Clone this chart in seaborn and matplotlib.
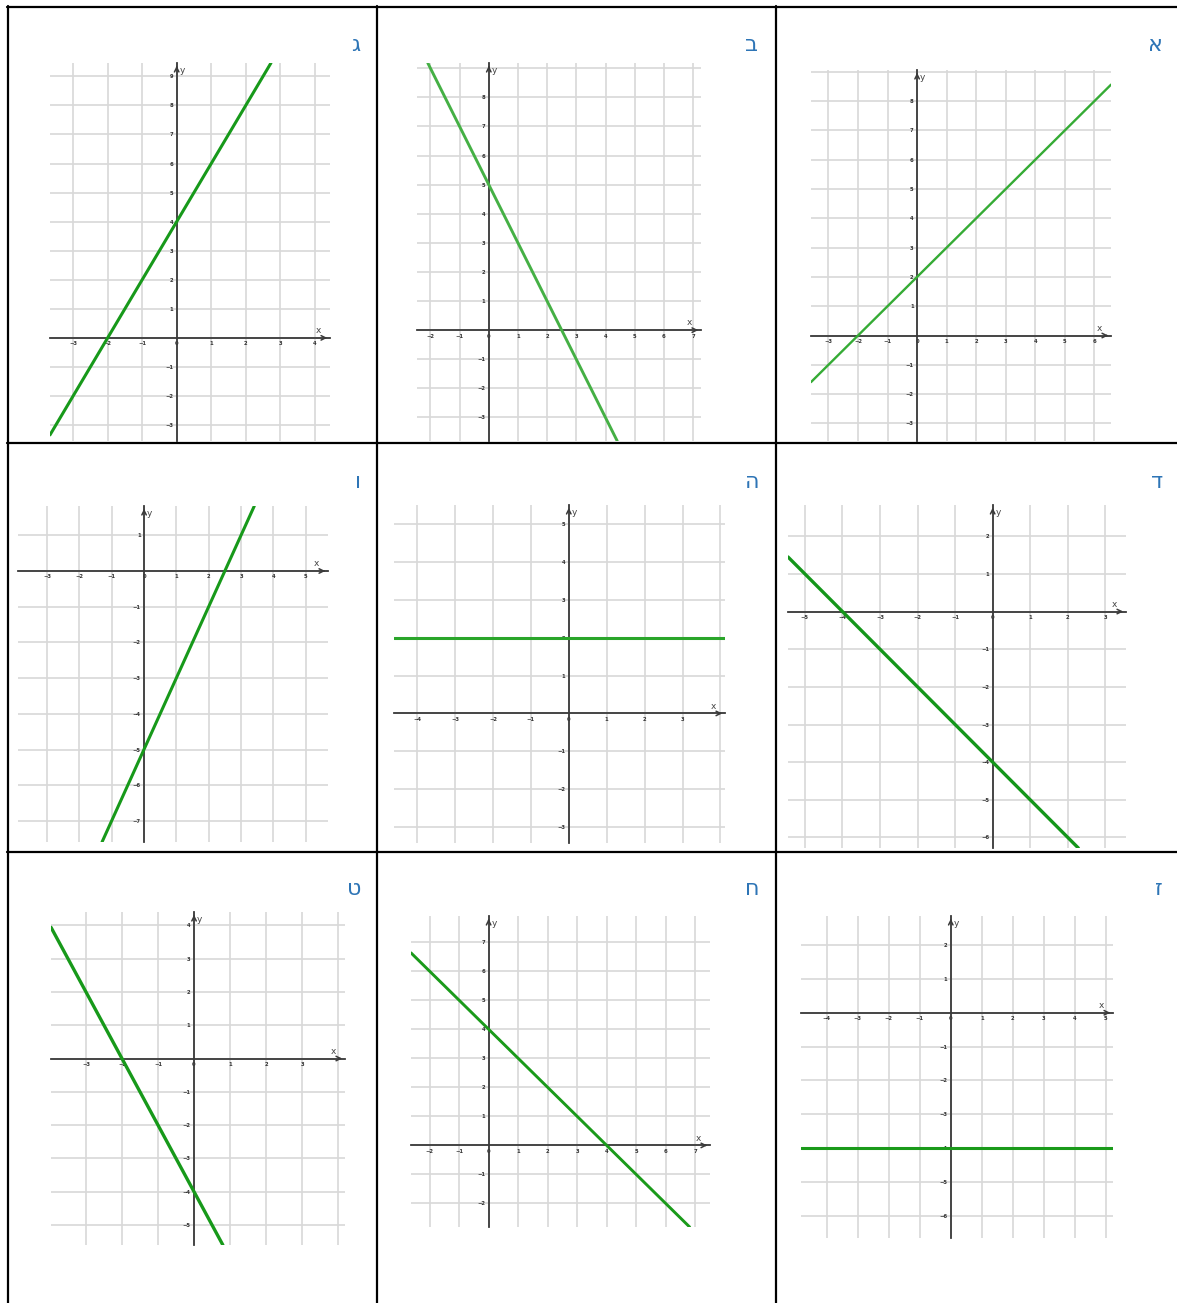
import matplotlib
matplotlib.use("Agg")
import matplotlib.pyplot as plt
from matplotlib.lines import Line2D
import numpy as np
import pandas as pd
import seaborn as sns

sns.set_theme(style="white")
plt.rcParams['font.family'] = ['DejaVu Sans']

# ---------------- data ----------------
panel_names = ["א", "ב", "ג", "ד", "ה", "ו", "ז", "ח", "ט"]

# line endpoints
line_x_a = [-3.59, 6.56];  line_y_a = [-1.59, 8.56]
line_x_b = [-2.09, 4.40];  line_y_b = [9.18, -3.81]
line_x_c = [-3.67, 2.73];  line_y_c = [-3.34, 9.46]
line_x_d = [-5.45, 2.28];  line_y_d = [1.45, -6.28]
line_x_e = [-4.61, 4.12];  line_y_e = [2.0, 2.0]
line_x_f = [-1.30, 3.41];  line_y_f = [-7.59, 1.82]
line_x_g = [-4.83, 5.23];  line_y_g = [-4.0, -4.0]
line_x_h = [-2.63, 6.81];  line_y_h = [6.63, -2.81]
line_x_i = [-3.97, 0.80];  line_y_i = [3.94, -5.60]

# axis tick labels shown on each grid
xlab_a = [-3, -2, -1, 0, 1, 2, 3, 4, 5, 6];     ylab_a = [-3, -2, -1, 1, 2, 3, 4, 5, 6, 7, 8]
xlab_b = [-2, -1, 0, 1, 2, 3, 4, 5, 6, 7];      ylab_b = [-3, -2, -1, 1, 2, 3, 4, 5, 6, 7, 8]
xlab_c = [-3, -2, -1, 0, 1, 2, 3, 4];           ylab_c = [-3, -2, -1, 1, 2, 3, 4, 5, 6, 7, 8, 9]
xlab_d = [-5, -4, -3, -2, -1, 0, 1, 2, 3];      ylab_d = [-6, -5, -4, -3, -2, -1, 1, 2]
xlab_e = [-4, -3, -2, -1, 0, 1, 2, 3];          ylab_e = [-3, -2, -1, 1, 2, 3, 4, 5]
xlab_f = [-3, -2, -1, 0, 1, 2, 3, 4, 5];        ylab_f = [-7, -6, -5, -4, -3, -2, -1, 1]
xlab_g = [-4, -3, -2, -1, 0, 1, 2, 3, 4, 5];    ylab_g = [-6, -5, -4, -3, -2, -1, 1, 2]
xlab_h = [-2, -1, 0, 1, 2, 3, 4, 5, 6, 7];      ylab_h = [-2, -1, 1, 2, 3, 4, 5, 6, 7]
xlab_i = [-3, -2, -1, 0, 1, 2, 3];              ylab_i = [-5, -4, -3, -2, -1, 1, 2, 3, 4]

# ---------------- layout ----------------
W, H = 1177, 1303
fig = plt.figure(figsize=(W / 100, H / 100), dpi=100)
fig.patch.set_facecolor("white")

panels = [
    # name, pixel box (x0,y0,x1,y1), xlim, ylim, line xs, ys, xlabels, ylabels, color, lw, label pos
    ("א", (811, 70, 1111, 441), (-3.59, 6.56), (-3.60, 9.06), line_x_a, line_y_a, xlab_a, ylab_a, "#35ab35", 1.7, (1155, 45)),
    ("ב", (417, 63, 701, 441), (-2.46, 7.27), (-3.81, 9.18), line_x_b, line_y_b, xlab_b, ylab_b, "#45b045", 2.1, (752, 45)),
    ("ג", (50, 63, 330, 441), (-3.67, 4.44), (-3.55, 9.46), line_x_c, line_y_c, xlab_c, ylab_c, "#17991a", 2.2, (356, 45)),
    ("ד", (788, 505, 1126, 848), (-5.45, 3.55), (-6.28, 2.83), line_x_d, line_y_d, xlab_d, ylab_d, "#14961a", 2.4, (1157, 482)),
    ("ה", (394, 505, 725, 843), (-4.61, 4.12), (-3.42, 5.50), line_x_e, line_y_e, xlab_e, ylab_e, "#2aa52a", 2.2, (752, 482)),
    ("ו", (18, 506, 328, 842), (-3.90, 5.69), (-7.59, 1.82), line_x_f, line_y_f, xlab_f, ylab_f, "#17991a", 2.2, (358, 482)),
    ("ז", (801, 916, 1113, 1238), (-4.83, 5.23), (-6.66, 2.86), line_x_g, line_y_g, xlab_g, ylab_g, "#1a9a1a", 2.2, (1159, 889)),
    ("ח", (411, 916, 710, 1227), (-2.63, 7.50), (-2.81, 7.90), line_x_h, line_y_h, xlab_h, ylab_h, "#1a9a1a", 2.1, (752, 889)),
    ("ט", (51, 912, 345, 1245), (-3.97, 4.19), (-5.60, 4.40), line_x_i, line_y_i, xlab_i, ylab_i, "#17991a", 2.4, (354, 889)),
]

def fmt(v):
    return str(v).replace("-", "\u2212")

for name, box, xl, yl, lx, ly, xlabs, ylabs, col, lw, lpos in panels:
    x0, y0, x1, y1 = box
    ax = fig.add_axes([x0 / W, 1 - y1 / H, (x1 - x0) / W, (y1 - y0) / H])
    ax.set_facecolor("none")
    ax.set_xlim(*xl)
    ax.set_ylim(*yl)

    xt = list(range(int(np.ceil(xl[0])), int(np.floor(xl[1])) + 1))
    yt = list(range(int(np.ceil(yl[0])), int(np.floor(yl[1])) + 1))
    ax.set_xticks(xt, [fmt(v) if v in xlabs else "" for v in xt])
    ax.set_yticks(yt, [fmt(v) if (v in ylabs and v != 0) else "" for v in yt])
    for t in ax.get_xticklabels():
        if t.get_text() == "0":
            t.set_horizontalalignment("right")

    ax.grid(True, color="#d9d9d9", linewidth=1.25, zorder=0)
    ax.set_axisbelow(True)

    for s in ["top", "right"]:
        ax.spines[s].set_visible(False)
    ax.spines["left"].set_position(("data", 0))
    ax.spines["bottom"].set_position(("data", 0))
    for s in ["left", "bottom"]:
        ax.spines[s].set_color("#3a3a3a")
        ax.spines[s].set_linewidth(1.3)
        ax.spines[s].set_zorder(2)
    ax.tick_params(axis="both", which="both", direction="inout", length=2.5, width=0.8,
                   color="#3a3a3a", labelsize=3.8, labelcolor="#333333", pad=1.2)
    for t in ax.get_xticklabels() + ax.get_yticklabels():
        t.set_fontweight("bold")

    df = pd.DataFrame({"x": lx, "y": ly})
    sns.lineplot(data=df, x="x", y="y", ax=ax, color=col, linewidth=lw,
                 sort=False, zorder=3, clip_on=True)
    ax.set_xlabel("")
    ax.set_ylabel("")

    # arrows
    ax.annotate("", xy=(xl[1], 0), xytext=(xl[1] - 0.25, 0),
                arrowprops=dict(arrowstyle="->", color="#3a3a3a", lw=1.1,
                                mutation_scale=8), annotation_clip=False)
    ax.annotate("", xy=(0, yl[1]), xytext=(0, yl[1] - 0.25),
                arrowprops=dict(arrowstyle="->", color="#3a3a3a", lw=1.1,
                                mutation_scale=8), annotation_clip=False)
    ax.annotate("x", xy=(xl[1], 0), xytext=(-8, 2), textcoords="offset points",
                fontsize=6.5, color="#444444", ha="center", va="bottom")
    ax.annotate("y", xy=(0, yl[1]), xytext=(2, -2), textcoords="offset points",
                fontsize=6.5, color="#444444", ha="left", va="top")

    fig.text(lpos[0] / W, 1 - lpos[1] / H, name, fontsize=16, color="#2e75b6",
             ha="center", va="center", family=["DejaVu Sans"])

# table borders
def hline(y, xa, xb):
    fig.add_artist(Line2D([xa / W, xb / W], [1 - y / H, 1 - y / H], color="black", lw=1.6))
def vline(x, ya, yb):
    fig.add_artist(Line2D([x / W, x / W], [1 - ya / H, 1 - yb / H], color="black", lw=1.6))

hline(7, 7, 1177)
hline(443.5, 7, 1177)
hline(851.5, 7, 1177)
vline(7.5, 6, 1303)
vline(377, 6, 1303)
vline(776, 6, 1303)

fig.savefig("out.png", dpi=100, facecolor="white")
